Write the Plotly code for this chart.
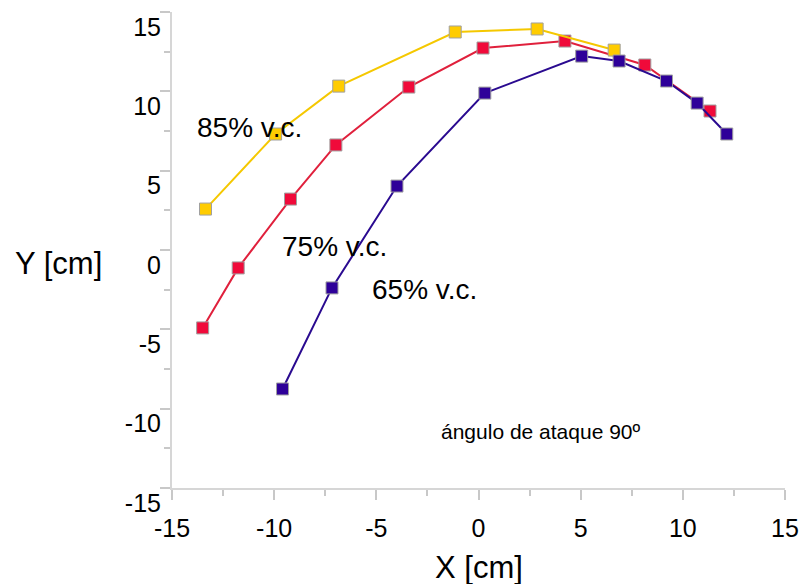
import plotly.graph_objects as go

# 85% v.c.
x85 = [-13.36, -9.93, -6.84, -1.14, 2.87, 6.64]
y85 = [2.58, 7.31, 10.33, 13.74, 13.93, 12.60]
# 75% v.c.
x75 = [-13.50, -11.76, -9.20, -6.98, -3.41, 0.22, 4.23, 8.14, 11.33]
y75 = [-4.91, -1.13, 3.21, 6.62, 10.27, 12.73, 13.17, 11.66, 8.76]
# 65% v.c.
x65 = [-9.59, -7.17, -3.99, 0.31, 5.05, 6.88, 9.20, 10.70, 12.15]
y65 = [-8.76, -2.39, 4.03, 9.89, 12.22, 11.91, 10.65, 9.26, 7.31]

tick_vals = [-15, -10, -5, 0, 5, 10, 15]
tick_text = ["-15", "-10", "-5", "0", "5", "10", "15"]

FONT = "Liberation Sans, Arial, Helvetica, sans-serif"

fig = go.Figure()

def add(xs, ys, fill, line):
    fig.add_trace(go.Scatter(
        x=xs, y=ys, mode="lines+markers",
        line=dict(color=line, width=2),
        marker=dict(symbol="square", size=12, color=fill,
                    line=dict(color="#a0a0a0", width=1)),
        showlegend=False, hoverinfo="skip"))

add(x75, y75, "#F00A3A", "#E0203C")
add(x85, y85, "#FFCC00", "#F5C800")
add(x65, y65, "#2E0099", "#2A0A90")

axis_common = dict(
    tickvals=tick_vals, ticktext=tick_text,
    showgrid=False, zeroline=False,
    showline=True, linecolor="#d6d6d6", linewidth=2,
    ticks="outside", ticklen=10, tickwidth=2, tickcolor="#c8c8c8",
    tickfont=dict(family=FONT, size=25, color="#000"),
    minor=dict(ticks="outside", ticklen=6, tickwidth=2, tickcolor="#c8c8c8", dtick=2.5,
               showgrid=False),
)

fig.update_xaxes(range=[-15, 15], ticklabelstandoff=7, **axis_common)
fig.update_yaxes(range=[-15, 15], ticklabelstandoff=-6, ticklabelshift=15, **axis_common)

ann = []
def label(text, x, y, size):
    ann.append(dict(text=text, x=x, y=y, xref="x", yref="y", showarrow=False,
                    xanchor="center", yanchor="middle",
                    font=dict(family=FONT, size=size, color="#000")))

label("85% v.c.", -11.23, 7.75, 28)
label("75% v.c.", -7.03, 0.19, 28)
label("65% v.c.", -2.63, -2.52, 28)
label("ángulo de ataque 90º", 3.07, -11.47, 21)

ann.append(dict(text="X [cm]", x=0.5, y=0, xref="paper", yref="paper", yshift=-79,
                showarrow=False, xanchor="center", yanchor="middle",
                font=dict(family=FONT, size=31, color="#000")))
ann.append(dict(text="Y [cm]", x=-0.185, y=0.472, xref="paper", yref="paper",
                showarrow=False, xanchor="center", yanchor="middle",
                font=dict(family=FONT, size=31, color="#000")))

fig.update_layout(
    width=811, height=584,
    margin=dict(l=172, r=18, t=12, b=96),
    plot_bgcolor="white", paper_bgcolor="white",
    annotations=ann,
)

fig.write_html("out.html")
